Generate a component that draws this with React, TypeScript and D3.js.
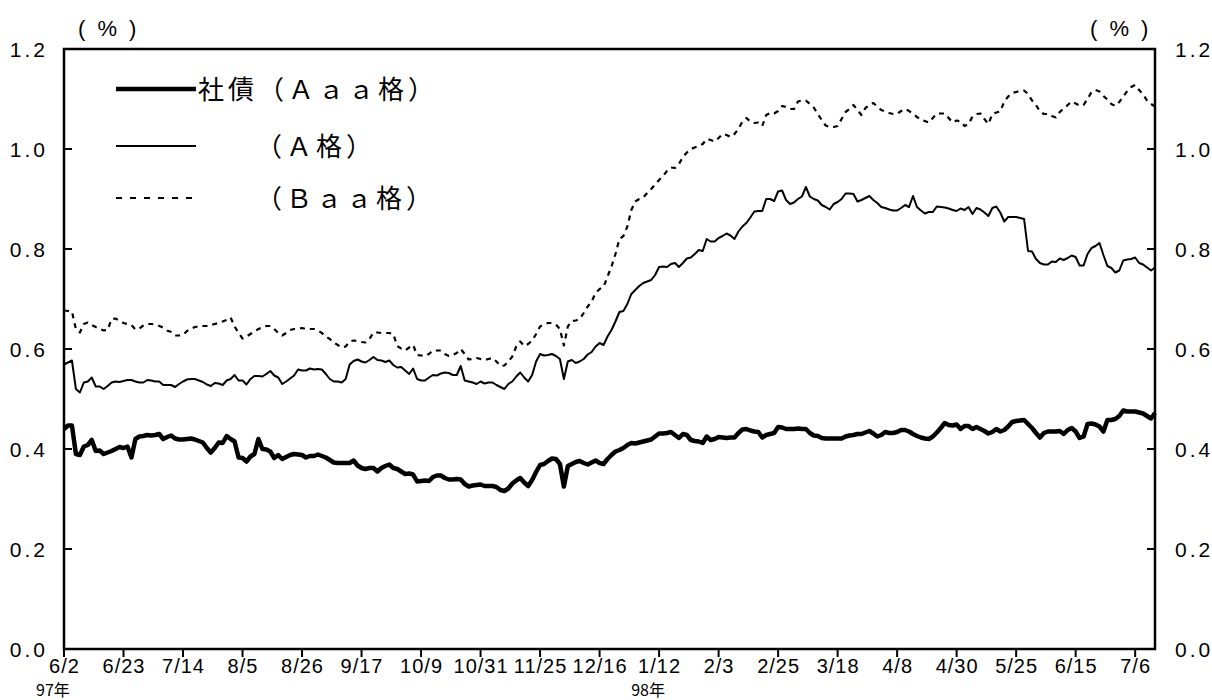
import React from "react";
import * as d3 from "d3";

const tickLabels = ["6/2","6/23","7/14","8/5","8/26","9/17","10/9","10/31","11/25","12/16","1/12","2/3","2/25","3/18","4/8","4/30","5/25","6/15","7/6"];
const tickStep = 15;
const yearLabels = [{ idx: 0, text: "97年" }, { idx: 150, text: "98年" }];
const yTicks = [0, 0.2, 0.4, 0.6, 0.8, 1.0, 1.2];

const aaa = [
0.44,0.447,0.447,0.39,0.388,0.405,0.408,0.418,0.396,0.397,0.39,0.393,0.396,0.4,0.404,0.402,0.405,0.383,0.42,0.425,
0.426,0.428,0.427,0.428,0.43,0.42,0.424,0.427,0.421,0.419,0.419,0.42,0.421,0.419,0.416,0.413,0.402,0.393,0.402,0.413,
0.412,0.426,0.42,0.415,0.383,0.382,0.375,0.385,0.39,0.42,0.4,0.399,0.395,0.382,0.388,0.38,0.384,0.388,0.39,0.389,
0.388,0.383,0.386,0.386,0.389,0.386,0.383,0.378,0.373,0.372,0.372,0.372,0.372,0.377,0.367,0.362,0.36,0.362,0.362,0.355,
0.362,0.366,0.369,0.362,0.36,0.355,0.35,0.351,0.349,0.335,0.336,0.337,0.336,0.344,0.347,0.347,0.342,0.339,0.339,0.34,
0.339,0.33,0.325,0.327,0.328,0.329,0.326,0.326,0.326,0.324,0.318,0.316,0.321,0.331,0.337,0.342,0.333,0.326,0.338,0.354,
0.368,0.37,0.376,0.381,0.38,0.37,0.325,0.366,0.37,0.374,0.376,0.372,0.369,0.373,0.377,0.372,0.37,0.38,0.388,0.395,
0.398,0.402,0.408,0.412,0.411,0.413,0.415,0.417,0.419,0.425,0.431,0.431,0.432,0.434,0.428,0.422,0.43,0.428,0.418,0.416,
0.415,0.412,0.425,0.418,0.42,0.424,0.423,0.422,0.423,0.423,0.432,0.439,0.44,0.437,0.435,0.434,0.423,0.428,0.43,0.432,
0.444,0.443,0.44,0.44,0.44,0.441,0.44,0.44,0.432,0.427,0.426,0.422,0.421,0.421,0.421,0.421,0.421,0.425,0.427,0.428,
0.43,0.43,0.433,0.436,0.431,0.425,0.428,0.434,0.432,0.432,0.434,0.438,0.438,0.435,0.43,0.426,0.423,0.421,0.42,0.425,
0.433,0.442,0.452,0.448,0.447,0.449,0.44,0.446,0.446,0.44,0.444,0.44,0.436,0.431,0.434,0.44,0.435,0.438,0.445,0.454,
0.456,0.457,0.458,0.45,0.442,0.432,0.423,0.432,0.435,0.435,0.435,0.436,0.43,0.438,0.442,0.435,0.422,0.425,0.45,0.451,
0.449,0.445,0.435,0.458,0.458,0.46,0.466,0.477,0.475,0.475,0.475,0.473,0.471,0.466,0.461,0.472
];

const ratedA = [
0.569,0.573,0.577,0.52,0.513,0.533,0.535,0.543,0.525,0.525,0.52,0.526,0.533,0.535,0.534,0.536,0.538,0.538,0.535,0.533,
0.533,0.538,0.537,0.535,0.535,0.528,0.528,0.528,0.524,0.53,0.535,0.539,0.54,0.54,0.537,0.534,0.529,0.526,0.532,0.531,
0.528,0.537,0.54,0.548,0.537,0.537,0.529,0.54,0.546,0.546,0.545,0.55,0.556,0.547,0.543,0.53,0.535,0.541,0.547,0.559,
0.557,0.557,0.561,0.559,0.56,0.559,0.55,0.54,0.535,0.535,0.533,0.54,0.569,0.576,0.579,0.575,0.573,0.578,0.584,0.578,
0.577,0.574,0.577,0.568,0.563,0.564,0.557,0.55,0.561,0.54,0.537,0.537,0.543,0.548,0.547,0.551,0.553,0.552,0.548,0.548,
0.566,0.537,0.535,0.533,0.53,0.535,0.531,0.533,0.533,0.528,0.524,0.52,0.53,0.535,0.545,0.553,0.543,0.535,0.548,0.575,
0.59,0.587,0.588,0.59,0.586,0.58,0.54,0.575,0.578,0.572,0.575,0.58,0.589,0.594,0.605,0.612,0.608,0.625,0.638,0.655,
0.674,0.676,0.69,0.71,0.718,0.726,0.732,0.735,0.738,0.748,0.764,0.765,0.764,0.77,0.772,0.764,0.772,0.781,0.783,0.79,
0.798,0.796,0.82,0.815,0.815,0.822,0.826,0.831,0.827,0.82,0.835,0.845,0.852,0.863,0.875,0.876,0.876,0.9,0.9,0.896,
0.915,0.917,0.898,0.89,0.893,0.9,0.905,0.924,0.905,0.9,0.897,0.888,0.884,0.879,0.89,0.894,0.9,0.911,0.911,0.91,
0.895,0.898,0.902,0.906,0.898,0.892,0.884,0.882,0.879,0.877,0.877,0.882,0.888,0.884,0.906,0.884,0.877,0.871,0.874,0.874,
0.885,0.884,0.883,0.881,0.878,0.876,0.881,0.878,0.884,0.87,0.882,0.879,0.873,0.866,0.882,0.885,0.873,0.855,0.864,0.864,
0.864,0.862,0.86,0.796,0.795,0.78,0.772,0.769,0.769,0.775,0.774,0.781,0.778,0.782,0.787,0.784,0.767,0.767,0.79,0.802,
0.806,0.812,0.788,0.766,0.762,0.753,0.757,0.777,0.779,0.78,0.783,0.772,0.769,0.763,0.757,0.763
];

const baa = [
0.677,0.676,0.675,0.64,0.633,0.65,0.653,0.648,0.644,0.64,0.637,0.638,0.66,0.661,0.656,0.652,0.65,0.648,0.639,0.641,
0.647,0.65,0.65,0.649,0.646,0.643,0.637,0.634,0.627,0.627,0.628,0.636,0.64,0.644,0.645,0.646,0.646,0.648,0.65,0.652,
0.655,0.658,0.663,0.645,0.632,0.621,0.625,0.63,0.635,0.64,0.643,0.646,0.646,0.64,0.632,0.627,0.632,0.638,0.64,0.641,
0.642,0.64,0.64,0.64,0.637,0.632,0.625,0.62,0.613,0.608,0.603,0.605,0.615,0.617,0.616,0.614,0.613,0.62,0.633,0.633,
0.632,0.632,0.632,0.63,0.606,0.601,0.597,0.603,0.608,0.588,0.587,0.586,0.59,0.597,0.597,0.597,0.59,0.586,0.588,0.592,
0.6,0.59,0.579,0.58,0.582,0.58,0.578,0.58,0.582,0.575,0.566,0.567,0.575,0.585,0.605,0.615,0.606,0.61,0.617,0.63,
0.645,0.649,0.652,0.652,0.649,0.64,0.607,0.645,0.656,0.657,0.66,0.672,0.685,0.695,0.712,0.72,0.724,0.745,0.765,0.79,
0.82,0.826,0.845,0.878,0.895,0.9,0.903,0.912,0.92,0.929,0.938,0.946,0.956,0.963,0.962,0.97,0.984,0.993,1.0,1.003,
1.006,1.01,1.02,1.018,1.015,1.022,1.03,1.028,1.024,1.03,1.04,1.055,1.062,1.055,1.052,1.053,1.046,1.068,1.072,1.071,
1.076,1.086,1.084,1.08,1.08,1.095,1.097,1.097,1.09,1.083,1.07,1.058,1.047,1.044,1.044,1.046,1.06,1.074,1.08,1.088,
1.078,1.068,1.082,1.088,1.092,1.085,1.078,1.075,1.072,1.07,1.07,1.076,1.08,1.076,1.07,1.064,1.058,1.056,1.053,1.062,
1.071,1.071,1.071,1.062,1.053,1.057,1.055,1.046,1.05,1.065,1.07,1.071,1.06,1.05,1.07,1.073,1.075,1.095,1.105,1.112,
1.114,1.116,1.117,1.11,1.097,1.088,1.075,1.07,1.07,1.066,1.063,1.074,1.081,1.088,1.095,1.091,1.087,1.088,1.1,1.114,
1.118,1.115,1.106,1.099,1.09,1.086,1.094,1.105,1.116,1.124,1.128,1.118,1.109,1.097,1.09,1.085
];

const legendItems = [
  { label: "社債（Ａａａ格）", width: 4.5, dash: "" },
  { label: "（Ａ格）", width: 2, dash: "" },
  { label: "（Ｂａａ格）", width: 2, dash: "6 8" },
];

const W = 1212, H = 700;
const left = 64, right = 1155, top = 49, bottom = 649;
const sansFont = "'Liberation Sans', Arial, sans-serif";
const cjkFont = "'Noto Sans CJK JP', 'Noto Sans', sans-serif";

export default function App() {
  const n = aaa.length;
  const x = d3.scaleLinear().domain([0, n - 1]).range([left, right]);
  const y = d3.scaleLinear().domain([0, 1.2]).range([bottom, top]);
  const line = d3.line<number>().x((_, i) => x(i)).y((d) => y(d));

  const series = [
    { data: aaa, width: 4.5, dash: "" },
    { data: ratedA, width: 2, dash: "" },
    { data: baa, width: 2.2, dash: "5 5" },
  ];

  const legendY = [89, 146, 198];

  return (
    <svg width={W} height={H} style={{ position: "absolute", left: 0, top: 0, background: "#fff" }}>
      <rect x={0} y={0} width={W} height={H} fill="#fff" />
      {series.map((s, k) => (
        <path key={k} d={line(s.data) || ""} fill="none" stroke="#000" strokeWidth={s.width}
          strokeDasharray={s.dash || undefined} strokeLinejoin="round" />
      ))}
      {/* frame */}
      <rect x={left} y={top} width={right - left} height={bottom - top} fill="none" stroke="#000" strokeWidth={2.5} />
      {/* y ticks */}
      {yTicks.map((t) => (
        <g key={t}>
          <line x1={left} x2={left + 8} y1={y(t)} y2={y(t)} stroke="#000" strokeWidth={2} />
          <line x1={right - 8} x2={right} y1={y(t)} y2={y(t)} stroke="#000" strokeWidth={2} />
          <text x={48} y={y(t) + 7.5} textAnchor="end" fontFamily={sansFont} fontSize={21} letterSpacing={3}>{t.toFixed(1)}</text>
          <text x={1175} y={y(t) + 7.5} textAnchor="start" fontFamily={sansFont} fontSize={21} letterSpacing={3}>{t.toFixed(1)}</text>
        </g>
      ))}
      {/* x ticks */}
      {tickLabels.map((lab, k) => (
        <g key={lab + k}>
          <line x1={x(k * tickStep)} x2={x(k * tickStep)} y1={bottom} y2={bottom + 8} stroke="#000" strokeWidth={2} />
          <text x={x(k * tickStep) + 0.5} y={673} textAnchor="middle" fontFamily={sansFont} fontSize={20} letterSpacing={1}>{lab}</text>
        </g>
      ))}
      {yearLabels.map((yl) => (
        <text key={yl.text} x={x(yl.idx) - 11} y={696} textAnchor="middle" fontFamily={cjkFont} fontSize={16}>{yl.text}</text>
      ))}
      {/* unit labels */}
      <text x={78} y={36} fontFamily={sansFont} fontSize={22} letterSpacing={3}>( % )</text>
      <text x={1090} y={36} fontFamily={sansFont} fontSize={22} letterSpacing={3}>( % )</text>
      {/* legend */}
      {legendItems.map((it, k) => (
        <g key={it.label}>
          <line x1={116} x2={196} y1={legendY[k]} y2={legendY[k]} stroke="#000" strokeWidth={it.width}
            strokeDasharray={it.dash || undefined} />
          <text x={k === 0 ? 198 : 256} y={legendY[k] + 10} fontFamily={cjkFont} fontSize={26} letterSpacing={4}>{it.label}</text>
        </g>
      ))}
    </svg>
  );
}
